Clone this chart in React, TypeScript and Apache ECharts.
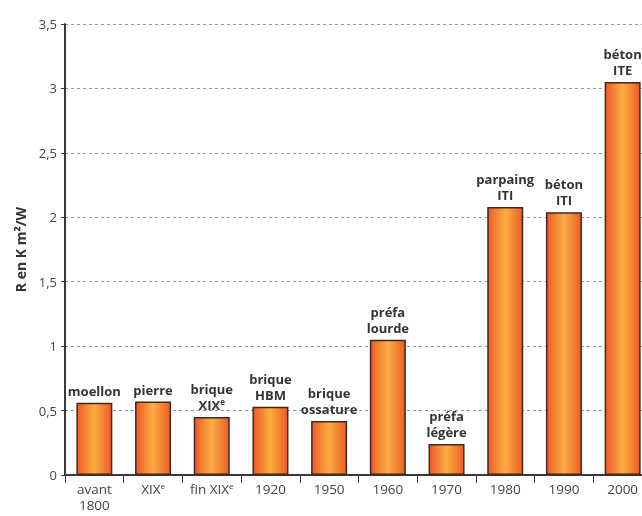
import React, { useEffect, useRef } from "react";
import * as echarts from "echarts";

const categories = ["avant\n1800", "XIXᵉ", "fin XIXᵉ", "1920", "1950", "1960", "1970", "1980", "1990", "2000"];
const barLabels = ["moellon", "pierre", "brique\nXIXᵉ", "brique\nHBM", "brique\nossature", "préfa\nlourde", "préfa\nlégère", "parpaing\nITI", "béton\nITI", "béton\nITE"];
const values = [0.56, 0.57, 0.45, 0.53, 0.42, 1.05, 0.24, 2.08, 2.04, 3.05];
const yTicks = [0, 0.5, 1, 1.5, 2, 2.5, 3, 3.5];

const FONT = "'Open Sans', 'Noto Sans', sans-serif";
const sup = (s: string) => s.replace(/ᵉ/g, "{sup|e}");

export default function App() {
  const ref = useRef<HTMLDivElement>(null);
  useEffect(() => {
    if (!ref.current) return;
    const chart = echarts.init(ref.current, undefined, { renderer: "svg" });
    const grad = new echarts.graphic.LinearGradient(0, 0, 1, 0, [
      { offset: 0, color: "#EF5A26" },
      { offset: 0.5, color: "#FBAE42" },
      { offset: 1, color: "#EF5A26" },
    ]);
    chart.setOption({
      animation: false,
      grid: { left: 65, right: -10, top: 24, bottom: 41, containLabel: false, outerBoundsMode: "none" },
      xAxis: {
        type: "category",
        data: categories,
        name: "Années",
        nameLocation: "middle",
        nameGap: 24,
        nameTextStyle: { fontFamily: FONT, fontWeight: "bold", fontSize: 14, lineHeight: 14, color: "#333" },
        axisLine: { show: true, lineStyle: { color: "#3a3a3a", width: 2 } },
        axisTick: { show: true, length: 8, lineStyle: { color: "#3a3a3a", width: 1 } },
        axisLabel: {
          fontFamily: FONT,
          fontSize: 13.5,
          color: "#444",
          margin: 6,
          lineHeight: 16,
          interval: 0,
          formatter: (v: string) => sup(v),
          rich: { sup: { fontFamily: FONT, fontSize: 8, lineHeight: 8, verticalAlign: "top", color: "#444" } },
        },
      },
      yAxis: {
        type: "value",
        min: 0,
        max: 3.5,
        interval: 0.5,
        name: "R en K m²/W",
        nameLocation: "middle",
        nameGap: 38,
        nameRotate: 90,
        nameTextStyle: { fontFamily: FONT, fontWeight: "bold", fontSize: 14, color: "#333" },
        axisLine: { show: true, lineStyle: { color: "#3a3a3a", width: 2 } },
        axisTick: { show: true, length: 4, lineStyle: { color: "#3a3a3a" } },
        axisLabel: {
          fontFamily: FONT,
          fontSize: 13,
          color: "#444",
          margin: 8,
          formatter: (v: number) => (yTicks.includes(v) ? String(v).replace(".", ",") : ""),
        },
        splitLine: { show: true, lineStyle: { color: "#999", type: [3, 3], width: 1 } },
      },
      series: [
        {
          type: "bar",
          data: values.map((v, i) => ({ value: v, label: { formatter: sup(barLabels[i]) } })),
          barWidth: 36,
          itemStyle: { color: grad, borderColor: "#3b2a22", borderWidth: 1.5 },
          label: {
            show: true,
            position: "top",
            distance: 4,
            fontFamily: FONT,
            fontWeight: "bold",
            fontSize: 13,
            lineHeight: 16,
            color: "#333",
            rich: { sup: { fontFamily: FONT, fontWeight: "bold", fontSize: 8, lineHeight: 8, verticalAlign: "top", color: "#333" } },
          },
        },
      ],
    });
    return () => chart.dispose();
  }, []);
  return <div ref={ref} style={{ position: "fixed", left: 0, top: 0, width: 642, height: 516 }} />;
}
